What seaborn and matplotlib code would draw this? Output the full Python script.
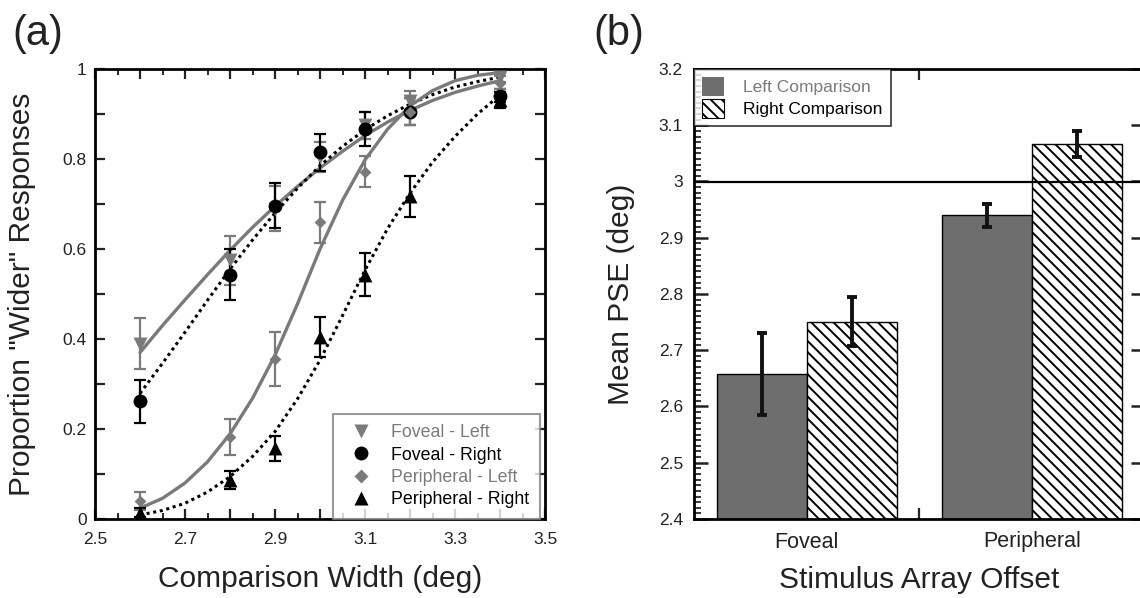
import numpy as np
import pandas as pd
import seaborn as sns
import matplotlib.pyplot as plt
from matplotlib.lines import Line2D
from matplotlib.patches import Patch
from matplotlib.ticker import MultipleLocator, FormatStrFormatter

# ---- panel (a) data: proportion "wider" responses ----
widths = [2.6, 2.8, 2.9, 3.0, 3.1, 3.2, 3.4]

foveal_left = [0.390, 0.575, 0.690, 0.805, 0.875, 0.930, 0.982]
foveal_left_err = [0.057, 0.055, 0.050, 0.033, 0.030, 0.020, 0.010]
foveal_right = [0.262, 0.543, 0.696, 0.815, 0.866, 0.905, 0.941]
foveal_right_err = [0.048, 0.056, 0.050, 0.041, 0.038, 0.030, 0.014]
periph_left = [0.040, 0.182, 0.356, 0.659, 0.772, 0.905, 0.970]
periph_left_err = [0.020, 0.040, 0.060, 0.045, 0.035, 0.030, 0.014]
periph_right = [0.014, 0.087, 0.157, 0.404, 0.543, 0.717, 0.931]
periph_right_err = [0.010, 0.020, 0.028, 0.044, 0.047, 0.045, 0.018]

# fitted psychometric curves
fit_x = [2.6, 2.65, 2.7, 2.75, 2.8, 2.85, 2.9, 2.95, 3.0, 3.05, 3.1, 3.15, 3.2, 3.25, 3.3, 3.35, 3.4]
fit_foveal_left = [0.370, 0.430, 0.487, 0.543, 0.597, 0.648, 0.695, 0.739, 0.780, 0.817, 0.852, 0.882, 0.908, 0.930, 0.948, 0.962, 0.974]
fit_foveal_right = [0.279, 0.346, 0.415, 0.486, 0.555, 0.620, 0.680, 0.735, 0.785, 0.828, 0.865, 0.896, 0.922, 0.943, 0.960, 0.972, 0.982]
fit_periph_left = [0.024, 0.046, 0.080, 0.127, 0.189, 0.268, 0.364, 0.478, 0.600, 0.708, 0.798, 0.866, 0.918, 0.952, 0.974, 0.986, 0.992]
fit_periph_right = [0.009, 0.019, 0.035, 0.060, 0.094, 0.139, 0.194, 0.267, 0.353, 0.452, 0.553, 0.645, 0.724, 0.793, 0.850, 0.900, 0.942]

# ---- panel (b) data: mean PSE ----
offsets = ["Foveal", "Peripheral"]
pse_left = [2.657, 2.940]
pse_left_err = [0.073, 0.020]
pse_right = [2.751, 3.067]
pse_right_err = [0.043, 0.023]

GREY = "#7a7a7a"
BAR_GREY = "#6e6e6e"

sns.set_style("ticks")
plt.rcParams["font.family"] = ["Liberation Sans", "DejaVu Sans"]
plt.rcParams["hatch.linewidth"] = 1.4
plt.rcParams["xtick.direction"] = "in"
plt.rcParams["ytick.direction"] = "in"

fig = plt.figure(figsize=(11.4, 5.98), dpi=100)
ax1 = fig.add_axes([95 / 1140, 79 / 598, 450 / 1140, 450 / 598])
ax2 = fig.add_axes([694 / 1140, 79 / 598, 450.5 / 1140, 450 / 598])

# ---------------- panel (a) ----------------
series = [
    ("Foveal - Left", foveal_left, foveal_left_err, fit_foveal_left, GREY, "v", 10, "-"),
    ("Foveal - Right", foveal_right, foveal_right_err, fit_foveal_right, "black", "o", 10, ":"),
    ("Peripheral - Left", periph_left, periph_left_err, fit_periph_left, GREY, "D", 6, "-"),
    ("Peripheral - Right", periph_right, periph_right_err, fit_periph_right, "black", "^", 10, ":"),
]

for name, y, err, fit, col, mk, ms, ls in series:
    fit_df = pd.DataFrame({"x": fit_x, "y": fit})
    if ls == "-":
        sns.lineplot(data=fit_df, x="x", y="y", ax=ax1, color=GREY, linewidth=2.4,
                     estimator=None, sort=False, zorder=2)
    else:
        sns.lineplot(data=fit_df, x="x", y="y", ax=ax1, color="black", linewidth=2.2,
                     estimator=None, sort=False, zorder=2)
        ax1.lines[-1].set_linestyle((0, (1.0, 1.2)))

for name, y, err, fit, col, mk, ms, ls in series:
    ax1.errorbar(widths, y, yerr=err, fmt="none", ecolor=col, elinewidth=1.6,
                 capsize=4, capthick=1.6, zorder=3)
    pts = pd.DataFrame({"x": widths, "y": y})
    sns.scatterplot(data=pts, x="x", y="y", ax=ax1, color=col, marker=mk,
                    s=ms ** 2, linewidth=0, zorder=4)

ax1.set_xlim(2.5, 3.5)
ax1.set_ylim(0, 1)
ax1.xaxis.set_minor_locator(MultipleLocator(0.05))
xt = np.round(np.arange(2.5, 3.51, 0.1), 2)
ax1.set_xticks(xt)
ax1.set_xticklabels([f"{v:g}" if i % 2 == 0 else "" for i, v in enumerate(xt)])
yt = np.round(np.arange(0, 1.01, 0.1), 2)
ax1.set_yticks(yt)
ax1.set_yticklabels([f"{v:g}" if i % 2 == 0 else "" for i, v in enumerate(yt)])
ax1.tick_params(which="major", length=7, width=1.6, top=True, right=True,
                labelsize=12.5, colors="#222222")
ax1.tick_params(axis="x", which="major", pad=9)
ax1.tick_params(axis="y", which="major", pad=6)
ax1.tick_params(which="minor", length=4, width=1.4, top=True, right=True)
ax1.tick_params(axis="y", which="minor", left=False, right=False)
for sp in ax1.spines.values():
    sp.set_linewidth(2)
    sp.set_color("black")

ax1.set_xlabel("Comparison Width (deg)", fontsize=21.5, color="#222222")
ax1.set_ylabel('Proportion "Wider" Responses', fontsize=21.5, color="#222222")
ax1.xaxis.set_label_coords(0.5, -0.102)
ax1.yaxis.set_label_coords(-0.13, 0.5)

handles1 = [
    Line2D([0], [0], marker=mk, color="none", markerfacecolor=col, markeredgecolor="none",
           markersize=ms if mk != "D" else 7)
    for name, y, err, fit, col, mk, ms, ls in series
]
labels1 = [s[0] for s in series]
leg1 = ax1.legend(handles1, labels1, loc="lower right", bbox_to_anchor=(0.989, 0.0),
                  borderaxespad=0, fontsize=12.8, frameon=True, fancybox=False,
                  handletextpad=0.7, borderpad=0.6, labelspacing=0.3, handlelength=2.0)
leg1.get_frame().set_edgecolor("#808080")
leg1.get_frame().set_linewidth(1.5)
for txt, s in zip(leg1.get_texts(), series):
    txt.set_color(s[4])

# ---------------- panel (b) ----------------
bar_df = pd.DataFrame({
    "offset": offsets * 2,
    "comparison": ["Left Comparison"] * 2 + ["Right Comparison"] * 2,
    "pse": pse_left + pse_right,
    "err": pse_left_err + pse_right_err,
})
sns.barplot(data=bar_df, x="offset", y="pse", hue="comparison", ax=ax2,
            palette={"Left Comparison": BAR_GREY, "Right Comparison": "white"},
            errorbar=None, edgecolor="black", linewidth=1.0, legend=False, zorder=2)

for cont, errs in zip(ax2.containers, [pse_left_err, pse_right_err]):
    for bar, e in zip(cont, errs):
        if bar.get_facecolor()[0] > 0.9:
            bar.set_hatch("\\\\\\")
        cx = bar.get_x() + bar.get_width() / 2
        ax2.errorbar(cx, bar.get_height(), yerr=e, fmt="none", ecolor="#111111",
                     elinewidth=2.8, capsize=3.5, capthick=2.8, zorder=4)

ax2.axhline(3.0, color="black", linewidth=1.6, zorder=3)
ax2.set_ylim(2.4, 3.2)
ax2.set_xlim(-0.5, 1.5)
ax2.yaxis.set_major_locator(MultipleLocator(0.1))
ax2.yaxis.set_minor_locator(MultipleLocator(0.01))
ax2.yaxis.set_major_formatter(FormatStrFormatter("%g"))
ax2.set_xticks([0, 1])
ax2.set_xticks([0.5], minor=True)
ax2.tick_params(axis="x", which="major", length=0, pad=9, labelsize=15.5, colors="#222222")
ax2.tick_params(axis="x", which="minor", length=8, width=1.6, top=True, bottom=True)
ax2.tick_params(axis="y", which="major", length=10, width=1.8, left=True, right=True,
                labelsize=12.5, pad=8, colors="#222222")
ax2.tick_params(axis="y", which="minor", length=5, width=1.3, left=True, right=False)
for sp in ax2.spines.values():
    sp.set_linewidth(2)
    sp.set_color("black")

ax2.set_xlabel("Stimulus Array Offset", fontsize=21.5, color="#222222")
ax2.set_ylabel("Mean PSE (deg)", fontsize=21.5, color="#222222")
ax2.xaxis.set_label_coords(0.5, -0.104)
ax2.yaxis.set_label_coords(-0.132, 0.5)

handles2 = [
    Patch(facecolor=BAR_GREY, edgecolor="none"),
    Patch(facecolor="white", edgecolor="black", hatch="\\\\\\", linewidth=0.8),
]
leg2 = ax2.legend(handles2, ["Left Comparison", "Right Comparison"], loc="upper left",
                  borderaxespad=0, fontsize=12.5, frameon=True, fancybox=False,
                  handlelength=1.3, handleheight=1.3, handletextpad=1.1,
                  borderpad=0.45, labelspacing=0.2)
leg2.get_frame().set_edgecolor("black")
leg2.get_frame().set_linewidth(1.2)
leg2.set_zorder(5)
leg2.get_texts()[0].set_color(GREY)
leg2.get_texts()[1].set_color("black")

fig.text(12 / 1140, 1 - 14 / 598, "(a)", fontsize=30, va="top", ha="left", color="#222222")
fig.text(593 / 1140, 1 - 14 / 598, "(b)", fontsize=30, va="top", ha="left", color="#222222")

fig.savefig("out.png", dpi=100)
